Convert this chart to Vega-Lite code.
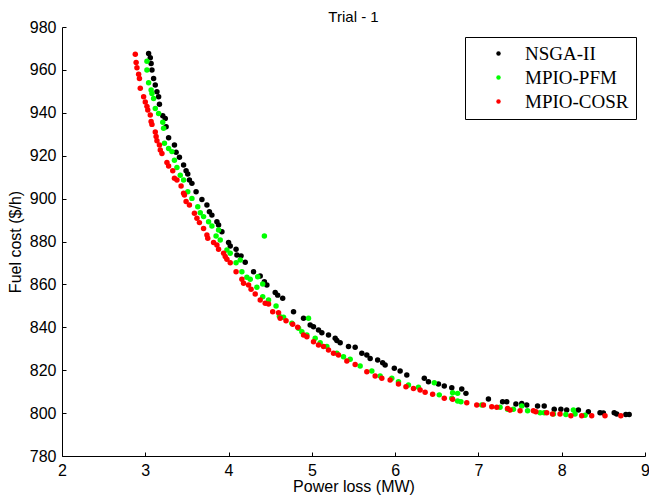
{
  "$schema": "https://vega.github.io/schema/vega-lite/v6.json",
  "width": 583,
  "height": 429,
  "autosize": {"type": "none"},
  "padding": {"left": 62, "top": 27, "right": 4, "bottom": 40},
  "background": "white",
  "title": {"text": "Trial - 1", "font": "Liberation Sans", "fontSize": 15, "fontWeight": "normal", "color": "black", "offset": 4, "dy": 10},
  "config": {"view": {"stroke": null}},
  "datasets": {
    "pts": [
      {"s":"NSGA-II","x":3.04,"y":967.7},{"s":"NSGA-II","x":3.06,"y":965.7},{"s":"NSGA-II","x":3.07,"y":963.0},{"s":"NSGA-II","x":3.08,"y":960.0},{"s":"NSGA-II","x":3.10,"y":956.0},{"s":"NSGA-II","x":3.12,"y":953.0},{"s":"NSGA-II","x":3.14,"y":949.8},{"s":"NSGA-II","x":3.16,"y":947.5},{"s":"NSGA-II","x":3.17,"y":944.0},{"s":"NSGA-II","x":3.21,"y":938.6},{"s":"NSGA-II","x":3.24,"y":937.4},{"s":"NSGA-II","x":3.25,"y":933.5},{"s":"NSGA-II","x":3.28,"y":928.4},{"s":"NSGA-II","x":3.35,"y":925.0},{"s":"NSGA-II","x":3.37,"y":921.6},{"s":"NSGA-II","x":3.41,"y":919.3},{"s":"NSGA-II","x":3.46,"y":915.7},{"s":"NSGA-II","x":3.49,"y":913.0},{"s":"NSGA-II","x":3.51,"y":911.5},{"s":"NSGA-II","x":3.53,"y":908.7},{"s":"NSGA-II","x":3.56,"y":907.1},{"s":"NSGA-II","x":3.61,"y":903.2},{"s":"NSGA-II","x":3.68,"y":899.6},{"s":"NSGA-II","x":3.74,"y":897.0},{"s":"NSGA-II","x":3.77,"y":893.9},{"s":"NSGA-II","x":3.80,"y":892.3},{"s":"NSGA-II","x":3.86,"y":889.2},{"s":"NSGA-II","x":3.88,"y":887.7},{"s":"NSGA-II","x":3.92,"y":884.5},{"s":"NSGA-II","x":4.00,"y":879.5},{"s":"NSGA-II","x":4.02,"y":877.9},{"s":"NSGA-II","x":4.09,"y":876.4},{"s":"NSGA-II","x":4.10,"y":873.7},{"s":"NSGA-II","x":4.15,"y":873.3},{"s":"NSGA-II","x":4.20,"y":870.3},{"s":"NSGA-II","x":4.30,"y":865.9},{"s":"NSGA-II","x":4.38,"y":863.9},{"s":"NSGA-II","x":4.43,"y":861.2},{"s":"NSGA-II","x":4.46,"y":859.7},{"s":"NSGA-II","x":4.56,"y":856.2},{"s":"NSGA-II","x":4.59,"y":855.0},{"s":"NSGA-II","x":4.65,"y":853.5},{"s":"NSGA-II","x":4.78,"y":847.3},{"s":"NSGA-II","x":4.90,"y":844.2},{"s":"NSGA-II","x":4.98,"y":841.1},{"s":"NSGA-II","x":5.02,"y":840.3},{"s":"NSGA-II","x":5.08,"y":838.7},{"s":"NSGA-II","x":5.12,"y":837.5},{"s":"NSGA-II","x":5.20,"y":836.4},{"s":"NSGA-II","x":5.28,"y":834.9},{"s":"NSGA-II","x":5.30,"y":833.8},{"s":"NSGA-II","x":5.34,"y":832.8},{"s":"NSGA-II","x":5.44,"y":831.0},{"s":"NSGA-II","x":5.52,"y":830.7},{"s":"NSGA-II","x":5.60,"y":827.9},{"s":"NSGA-II","x":5.66,"y":827.1},{"s":"NSGA-II","x":5.70,"y":825.5},{"s":"NSGA-II","x":5.79,"y":824.8},{"s":"NSGA-II","x":5.85,"y":823.5},{"s":"NSGA-II","x":5.88,"y":822.4},{"s":"NSGA-II","x":5.99,"y":820.9},{"s":"NSGA-II","x":6.06,"y":819.6},{"s":"NSGA-II","x":6.14,"y":817.8},{"s":"NSGA-II","x":6.35,"y":816.2},{"s":"NSGA-II","x":6.40,"y":814.6},{"s":"NSGA-II","x":6.52,"y":813.6},{"s":"NSGA-II","x":6.59,"y":812.6},{"s":"NSGA-II","x":6.68,"y":811.8},{"s":"NSGA-II","x":6.80,"y":811.2},{"s":"NSGA-II","x":6.85,"y":809.2},{"s":"NSGA-II","x":7.12,"y":806.6},{"s":"NSGA-II","x":7.29,"y":805.3},{"s":"NSGA-II","x":7.34,"y":805.3},{"s":"NSGA-II","x":7.45,"y":804.2},{"s":"NSGA-II","x":7.52,"y":804.5},{"s":"NSGA-II","x":7.58,"y":803.8},{"s":"NSGA-II","x":7.71,"y":803.3},{"s":"NSGA-II","x":7.79,"y":803.3},{"s":"NSGA-II","x":7.91,"y":801.8},{"s":"NSGA-II","x":7.99,"y":801.8},{"s":"NSGA-II","x":8.06,"y":801.4},{"s":"NSGA-II","x":8.20,"y":801.4},{"s":"NSGA-II","x":8.32,"y":800.6},{"s":"NSGA-II","x":8.46,"y":800.2},{"s":"NSGA-II","x":8.50,"y":800.0},{"s":"NSGA-II","x":8.63,"y":800.2},{"s":"NSGA-II","x":8.66,"y":799.6},{"s":"NSGA-II","x":8.77,"y":799.4},{"s":"NSGA-II","x":8.81,"y":799.4},
      {"s":"MPIO-PFM","x":3.02,"y":964.0},{"s":"MPIO-PFM","x":3.02,"y":960.0},{"s":"MPIO-PFM","x":3.04,"y":954.0},{"s":"MPIO-PFM","x":3.07,"y":950.6},{"s":"MPIO-PFM","x":3.08,"y":949.0},{"s":"MPIO-PFM","x":3.10,"y":946.7},{"s":"MPIO-PFM","x":3.12,"y":942.0},{"s":"MPIO-PFM","x":3.16,"y":939.7},{"s":"MPIO-PFM","x":3.21,"y":935.6},{"s":"MPIO-PFM","x":3.22,"y":932.8},{"s":"MPIO-PFM","x":3.23,"y":925.8},{"s":"MPIO-PFM","x":3.28,"y":923.4},{"s":"MPIO-PFM","x":3.32,"y":921.9},{"s":"MPIO-PFM","x":3.35,"y":917.9},{"s":"MPIO-PFM","x":3.38,"y":914.5},{"s":"MPIO-PFM","x":3.42,"y":910.9},{"s":"MPIO-PFM","x":3.46,"y":908.7},{"s":"MPIO-PFM","x":3.51,"y":903.2},{"s":"MPIO-PFM","x":3.56,"y":900.1},{"s":"MPIO-PFM","x":3.63,"y":896.2},{"s":"MPIO-PFM","x":3.66,"y":893.4},{"s":"MPIO-PFM","x":3.70,"y":891.6},{"s":"MPIO-PFM","x":3.76,"y":889.2},{"s":"MPIO-PFM","x":3.80,"y":887.2},{"s":"MPIO-PFM","x":3.85,"y":882.6},{"s":"MPIO-PFM","x":3.88,"y":885.4},{"s":"MPIO-PFM","x":3.90,"y":880.7},{"s":"MPIO-PFM","x":3.98,"y":876.0},{"s":"MPIO-PFM","x":4.02,"y":874.5},{"s":"MPIO-PFM","x":4.09,"y":870.1},{"s":"MPIO-PFM","x":4.14,"y":871.4},{"s":"MPIO-PFM","x":4.16,"y":865.9},{"s":"MPIO-PFM","x":4.22,"y":863.3},{"s":"MPIO-PFM","x":4.26,"y":862.4},{"s":"MPIO-PFM","x":4.35,"y":863.6},{"s":"MPIO-PFM","x":4.34,"y":858.7},{"s":"MPIO-PFM","x":4.41,"y":860.2},{"s":"MPIO-PFM","x":4.43,"y":882.6},{"s":"MPIO-PFM","x":4.41,"y":854.2},{"s":"MPIO-PFM","x":4.48,"y":852.7},{"s":"MPIO-PFM","x":4.57,"y":849.9},{"s":"MPIO-PFM","x":4.61,"y":845.2},{"s":"MPIO-PFM","x":4.66,"y":844.7},{"s":"MPIO-PFM","x":4.76,"y":841.9},{"s":"MPIO-PFM","x":4.84,"y":839.6},{"s":"MPIO-PFM","x":4.96,"y":844.2},{"s":"MPIO-PFM","x":4.88,"y":837.9},{"s":"MPIO-PFM","x":4.94,"y":836.4},{"s":"MPIO-PFM","x":5.04,"y":834.9},{"s":"MPIO-PFM","x":5.10,"y":832.8},{"s":"MPIO-PFM","x":5.18,"y":831.0},{"s":"MPIO-PFM","x":5.30,"y":827.9},{"s":"MPIO-PFM","x":5.38,"y":826.3},{"s":"MPIO-PFM","x":5.46,"y":825.1},{"s":"MPIO-PFM","x":5.58,"y":822.0},{"s":"MPIO-PFM","x":5.72,"y":819.6},{"s":"MPIO-PFM","x":5.82,"y":817.3},{"s":"MPIO-PFM","x":5.96,"y":816.2},{"s":"MPIO-PFM","x":6.04,"y":814.6},{"s":"MPIO-PFM","x":6.16,"y":813.1},{"s":"MPIO-PFM","x":6.28,"y":812.0},{"s":"MPIO-PFM","x":6.47,"y":814.2},{"s":"MPIO-PFM","x":6.53,"y":808.5},{"s":"MPIO-PFM","x":6.69,"y":809.5},{"s":"MPIO-PFM","x":6.75,"y":809.2},{"s":"MPIO-PFM","x":6.68,"y":806.9},{"s":"MPIO-PFM","x":6.75,"y":805.6},{"s":"MPIO-PFM","x":6.79,"y":805.3},{"s":"MPIO-PFM","x":7.04,"y":803.8},{"s":"MPIO-PFM","x":7.26,"y":802.7},{"s":"MPIO-PFM","x":7.35,"y":801.8},{"s":"MPIO-PFM","x":7.42,"y":801.8},{"s":"MPIO-PFM","x":7.52,"y":803.3},{"s":"MPIO-PFM","x":7.59,"y":801.1},{"s":"MPIO-PFM","x":7.74,"y":800.2},{"s":"MPIO-PFM","x":7.79,"y":800.2},{"s":"MPIO-PFM","x":7.90,"y":799.6},{"s":"MPIO-PFM","x":8.05,"y":799.4},{"s":"MPIO-PFM","x":8.14,"y":801.4},{"s":"MPIO-PFM","x":8.16,"y":799.6},{"s":"MPIO-PFM","x":8.28,"y":799.0},
      {"s":"MPIO-COSR","x":2.88,"y":967.3},{"s":"MPIO-COSR","x":2.89,"y":963.5},{"s":"MPIO-COSR","x":2.90,"y":961.0},{"s":"MPIO-COSR","x":2.92,"y":958.0},{"s":"MPIO-COSR","x":2.93,"y":956.0},{"s":"MPIO-COSR","x":2.94,"y":951.4},{"s":"MPIO-COSR","x":2.98,"y":947.5},{"s":"MPIO-COSR","x":3.00,"y":945.0},{"s":"MPIO-COSR","x":3.02,"y":943.0},{"s":"MPIO-COSR","x":3.03,"y":941.3},{"s":"MPIO-COSR","x":3.06,"y":939.0},{"s":"MPIO-COSR","x":3.07,"y":936.0},{"s":"MPIO-COSR","x":3.08,"y":934.6},{"s":"MPIO-COSR","x":3.12,"y":931.0},{"s":"MPIO-COSR","x":3.13,"y":929.0},{"s":"MPIO-COSR","x":3.14,"y":927.0},{"s":"MPIO-COSR","x":3.17,"y":925.0},{"s":"MPIO-COSR","x":3.18,"y":922.7},{"s":"MPIO-COSR","x":3.20,"y":921.0},{"s":"MPIO-COSR","x":3.26,"y":916.8},{"s":"MPIO-COSR","x":3.28,"y":915.2},{"s":"MPIO-COSR","x":3.33,"y":913.0},{"s":"MPIO-COSR","x":3.35,"y":909.5},{"s":"MPIO-COSR","x":3.38,"y":908.7},{"s":"MPIO-COSR","x":3.43,"y":905.9},{"s":"MPIO-COSR","x":3.46,"y":902.5},{"s":"MPIO-COSR","x":3.47,"y":901.7},{"s":"MPIO-COSR","x":3.49,"y":898.6},{"s":"MPIO-COSR","x":3.53,"y":897.0},{"s":"MPIO-COSR","x":3.59,"y":893.2},{"s":"MPIO-COSR","x":3.62,"y":890.8},{"s":"MPIO-COSR","x":3.65,"y":888.8},{"s":"MPIO-COSR","x":3.70,"y":886.1},{"s":"MPIO-COSR","x":3.74,"y":883.0},{"s":"MPIO-COSR","x":3.75,"y":881.5},{"s":"MPIO-COSR","x":3.82,"y":879.5},{"s":"MPIO-COSR","x":3.86,"y":878.4},{"s":"MPIO-COSR","x":3.88,"y":876.4},{"s":"MPIO-COSR","x":3.94,"y":874.5},{"s":"MPIO-COSR","x":3.96,"y":873.0},{"s":"MPIO-COSR","x":3.98,"y":871.7},{"s":"MPIO-COSR","x":4.02,"y":870.1},{"s":"MPIO-COSR","x":4.09,"y":865.9},{"s":"MPIO-COSR","x":4.16,"y":862.4},{"s":"MPIO-COSR","x":4.18,"y":860.5},{"s":"MPIO-COSR","x":4.24,"y":859.7},{"s":"MPIO-COSR","x":4.27,"y":857.7},{"s":"MPIO-COSR","x":4.32,"y":855.5},{"s":"MPIO-COSR","x":4.38,"y":852.7},{"s":"MPIO-COSR","x":4.44,"y":851.2},{"s":"MPIO-COSR","x":4.48,"y":850.9},{"s":"MPIO-COSR","x":4.53,"y":847.3},{"s":"MPIO-COSR","x":4.60,"y":846.8},{"s":"MPIO-COSR","x":4.62,"y":844.2},{"s":"MPIO-COSR","x":4.69,"y":843.1},{"s":"MPIO-COSR","x":4.77,"y":841.4},{"s":"MPIO-COSR","x":4.83,"y":840.0},{"s":"MPIO-COSR","x":4.90,"y":836.4},{"s":"MPIO-COSR","x":4.94,"y":835.6},{"s":"MPIO-COSR","x":5.02,"y":833.3},{"s":"MPIO-COSR","x":5.08,"y":831.7},{"s":"MPIO-COSR","x":5.14,"y":831.0},{"s":"MPIO-COSR","x":5.20,"y":829.4},{"s":"MPIO-COSR","x":5.26,"y":827.9},{"s":"MPIO-COSR","x":5.32,"y":827.1},{"s":"MPIO-COSR","x":5.42,"y":824.3},{"s":"MPIO-COSR","x":5.52,"y":822.7},{"s":"MPIO-COSR","x":5.66,"y":819.3},{"s":"MPIO-COSR","x":5.76,"y":817.3},{"s":"MPIO-COSR","x":5.84,"y":816.2},{"s":"MPIO-COSR","x":5.94,"y":815.4},{"s":"MPIO-COSR","x":6.04,"y":813.6},{"s":"MPIO-COSR","x":6.13,"y":812.3},{"s":"MPIO-COSR","x":6.22,"y":811.5},{"s":"MPIO-COSR","x":6.30,"y":810.8},{"s":"MPIO-COSR","x":6.36,"y":809.7},{"s":"MPIO-COSR","x":6.45,"y":808.8},{"s":"MPIO-COSR","x":6.59,"y":806.9},{"s":"MPIO-COSR","x":6.69,"y":806.5},{"s":"MPIO-COSR","x":6.86,"y":804.8},{"s":"MPIO-COSR","x":6.98,"y":803.8},{"s":"MPIO-COSR","x":7.06,"y":803.8},{"s":"MPIO-COSR","x":7.16,"y":803.0},{"s":"MPIO-COSR","x":7.22,"y":802.7},{"s":"MPIO-COSR","x":7.35,"y":802.2},{"s":"MPIO-COSR","x":7.38,"y":801.4},{"s":"MPIO-COSR","x":7.50,"y":801.1},{"s":"MPIO-COSR","x":7.66,"y":801.1},{"s":"MPIO-COSR","x":7.69,"y":800.6},{"s":"MPIO-COSR","x":7.82,"y":800.2},{"s":"MPIO-COSR","x":7.89,"y":799.6},{"s":"MPIO-COSR","x":7.98,"y":799.6},{"s":"MPIO-COSR","x":8.11,"y":798.8},{"s":"MPIO-COSR","x":8.24,"y":798.8},{"s":"MPIO-COSR","x":8.36,"y":798.8},{"s":"MPIO-COSR","x":8.52,"y":798.8},{"s":"MPIO-COSR","x":8.71,"y":798.8}
    ]
  },
  "data": {"name": "pts"},
  "mark": {"type": "point", "filled": true, "shape": "circle", "size": 30, "opacity": 1, "strokeWidth": 0},
  "encoding": {
    "x": {
      "field": "x", "type": "quantitative",
      "scale": {"domain": [2, 9], "nice": false, "zero": false},
      "axis": {
        "title": "Power loss (MW)", "titleFont": "Liberation Sans", "titleFontSize": 16, "titleFontWeight": "normal", "titleColor": "black", "titlePadding": 0,
        "values": [2, 3, 4, 5, 6, 7, 8, 9], "format": "d",
        "labelFont": "Liberation Sans", "labelFontSize": 16, "labelColor": "black", "labelPadding": 10,
        "tickSize": -4, "tickColor": "black", "domainColor": "black", "grid": false, "labelFlush": false, "labelOverlap": false
      }
    },
    "y": {
      "field": "y", "type": "quantitative",
      "scale": {"domain": [780, 980], "nice": false, "zero": false},
      "axis": {
        "title": "Fuel cost ($/h)", "titleFont": "Liberation Sans", "titleFontSize": 16, "titleFontWeight": "normal", "titleColor": "black", "titlePadding": 6,
        "values": [780, 800, 820, 840, 860, 880, 900, 920, 940, 960, 980],
        "labelFont": "Liberation Sans", "labelFontSize": 16, "labelColor": "black", "labelPadding": 10,
        "tickSize": -4, "tickColor": "black", "domainColor": "black", "grid": false, "labelFlush": false, "labelOverlap": false
      }
    },
    "color": {
      "field": "s", "type": "nominal",
      "scale": {"domain": ["NSGA-II", "MPIO-PFM", "MPIO-COSR"], "range": ["#000000", "#00ff00", "#ff0000"]},
      "legend": {
        "orient": "none", "legendX": 403, "legendY": 10, "title": null,
        "strokeColor": "black", "fillColor": "white", "padding": 7,
        "labelFont": "Liberation Serif", "labelFontSize": 19, "labelColor": "black",
        "labelExpr": "datum.label + '\u00a0'",
        "symbolType": "circle", "symbolSize": 20, "symbolStrokeWidth": 0,
        "rowPadding": 4, "symbolOffset": 17, "labelOffset": 17
      }
    }
  }
}
